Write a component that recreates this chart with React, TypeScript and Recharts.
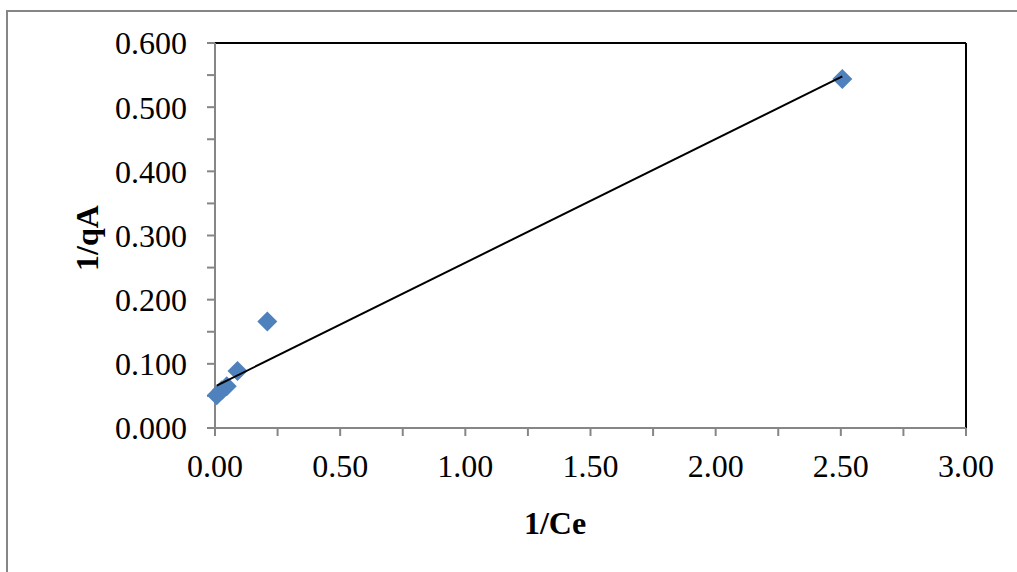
import React from "react";
import {
  ReferenceLine,
  Scatter,
  ScatterChart,
  XAxis,
  YAxis,
} from "recharts";

// 1/Ce vs 1/qA (Langmuir linearisation)
const invCe = [0.007, 0.027, 0.047, 0.09, 0.209, 2.506];
const invQa = [0.051, 0.059, 0.065, 0.0888, 0.166, 0.544];

// linear trendline end points as drawn
const trendX = [0.007, 2.506];
const trendY = [0.066, 0.548];

const xTicks = [0, 0.25, 0.5, 0.75, 1, 1.25, 1.5, 1.75, 2, 2.25, 2.5, 2.75, 3];
const yTicks = [0, 0.05, 0.1, 0.15, 0.2, 0.25, 0.3, 0.35, 0.4, 0.45, 0.5, 0.55, 0.6];

const points = invCe.map((x, i) => ({ x, y: invQa[i] }));
const trend = trendX.map((x, i) => ({ x, y: trendY[i] }));

const AXIS_GRAY = "#868686";
const MARKER = "#4F81BD";
const FONT = "'Liberation Serif', 'Times New Roman', serif";

function Diamond(props: any) {
  const { cx, cy } = props;
  const r = 10;
  return (
    <polygon
      points={`${cx},${cy - r} ${cx + r},${cy} ${cx},${cy + r} ${cx - r},${cy}`}
      fill={MARKER}
    />
  );
}

const xFmt = (v: number) => (Math.round(v * 4) % 2 === 0 ? v.toFixed(2) : "");
const yFmt = (v: number) => (Math.round(v * 20) % 2 === 0 ? v.toFixed(3) : "");

export default function App() {
  return (
    <div
      style={{
        position: "absolute",
        left: 0,
        top: 0,
        width: 1017,
        height: 572,
        overflow: "hidden",
        background: "#fff",
        fontFamily: FONT,
      }}
    >
      {/* outer chart frame */}
      <div
        style={{
          position: "absolute",
          left: 6,
          top: 10,
          width: 1100,
          height: 700,
          border: `2px solid ${AXIS_GRAY}`,
          boxSizing: "border-box",
        }}
      />
      <ScatterChart
        width={1017}
        height={572}
        margin={{ top: 43, right: 51, bottom: 0, left: 0 }}
        style={{ position: "absolute", left: 0, top: 0 }}
      >
        <XAxis
          type="number"
          dataKey="x"
          domain={[0, 3]}
          ticks={xTicks}
          tickFormatter={xFmt}
          height={144}
          stroke={AXIS_GRAY}
          strokeWidth={2}
          tickSize={8}
          tickMargin={18}
          tick={{ fill: "#000", fontSize: 32, fontFamily: FONT }}
          interval={0}
        />
        <YAxis
          type="number"
          dataKey="y"
          domain={[0, 0.6]}
          ticks={yTicks}
          tickFormatter={yFmt}
          width={215}
          stroke={AXIS_GRAY}
          strokeWidth={2}
          tickSize={8}
          tickMargin={20}
          tick={{ fill: "#000", fontSize: 32, fontFamily: FONT }}
          interval={0}
        />
        <ReferenceLine y={0.6} stroke="#000" strokeWidth={2} />
        <ReferenceLine x={3} stroke="#000" strokeWidth={2} />
        <Scatter
          data={points}
          shape={Diamond}
          isAnimationActive={false}
        />
        <Scatter
          data={trend}
          line={{ stroke: "#000", strokeWidth: 2 }}
          shape={() => <g />}
          isAnimationActive={false}
        />
      </ScatterChart>
      <div
        style={{
          position: "absolute",
          left: 555,
          top: 523,
          transform: "translate(-50%, -50%)",
          fontSize: 32,
          fontWeight: "bold",
          color: "#000",
          whiteSpace: "nowrap",
          lineHeight: 1,
        }}
      >
        1/Ce
      </div>
      <div
        style={{
          position: "absolute",
          left: 87,
          top: 238,
          transform: "translate(-50%, -50%) rotate(-90deg)",
          fontSize: 32,
          fontWeight: "bold",
          color: "#000",
          whiteSpace: "nowrap",
          lineHeight: 1,
        }}
      >
        1/qA
      </div>
    </div>
  );
}
